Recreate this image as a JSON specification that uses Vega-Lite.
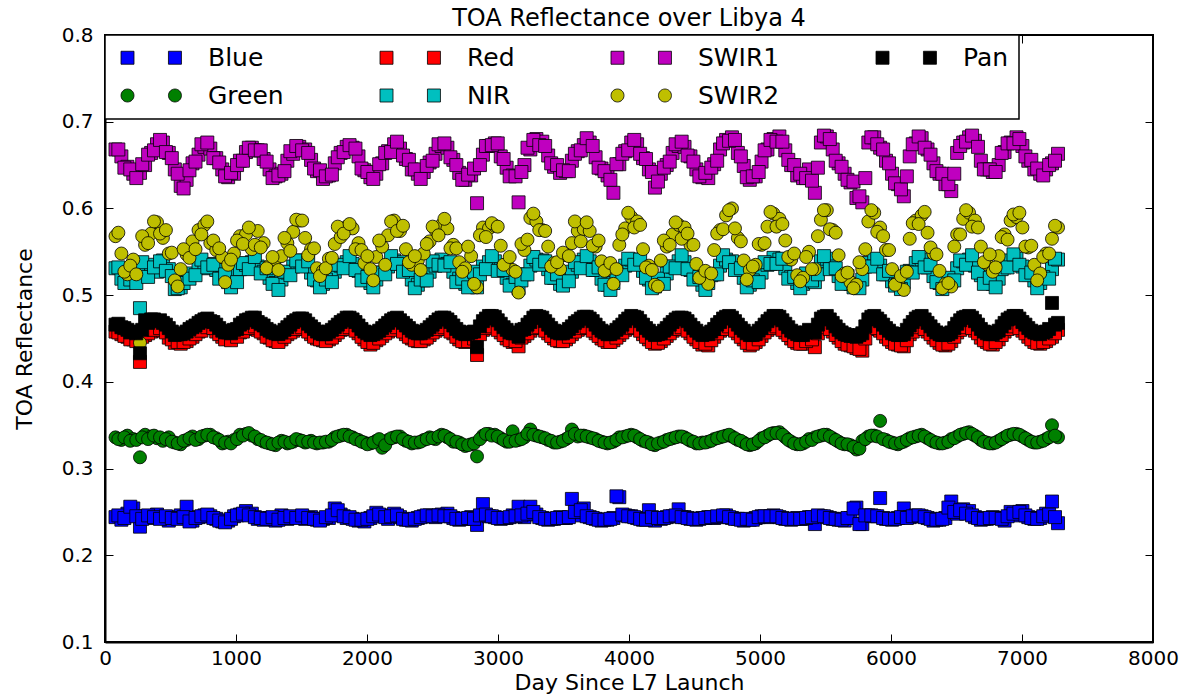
{
"$schema": "https://vega.github.io/schema/vega-lite/v6.json",
"width": 1048, "height": 607,
"autosize": "none",
"padding": {"left": 105, "top": 35, "right": 35, "bottom": 55},
"background": "white",
"title": {"text": "TOA Reflectance over Libya 4", "fontSize": 24, "font": "DejaVu Sans", "fontWeight": "normal", "color": "black", "anchor": "middle", "frame": "group", "offset": -6},
"config": {
  "view": {"stroke": "black", "strokeWidth": 2},
  "font": "DejaVu Sans",
  "legend": {
    "orient": "top-left", "offset": 0, "columns": 4, "padding": 10,
    "strokeColor": "black", "strokeWidth": 1.5, "fillColor": "white",
    "labelFont": "DejaVu Sans", "labelFontSize": 25, "labelColor": "black",
    "symbolSize": 169, "labelOffset": 68, "columnPadding": 90, "rowPadding": 12,
    "symbolStrokeColor": "black", "symbolStrokeWidth": 0.8, "symbolOpacity": 1
  }
},
"data": {"values": [
{"day":80,"Blue":0.244,"Green":0.336,"Red":0.458,"NIR":0.531,"SWIR1":0.668,"SWIR2":0.568,"Pan":0.466},
{"day":125,"Blue":0.241,"Green":0.333,"Red":0.455,"NIR":0.519,"SWIR1":0.660,"SWIR2":0.548,"Pan":0.463},
{"day":171,"Blue":0.248,"Green":0.338,"Red":0.452,"NIR":0.517,"SWIR1":0.648,"SWIR2":0.524,"Pan":0.460},
{"day":216,"Blue":0.254,"Green":0.334,"Red":0.449,"NIR":0.522,"SWIR1":0.640,"SWIR2":0.541,"Pan":0.458},
{"day":267,"Blue":0.233,"Green":0.313,"Red":0.423,"NIR":0.485,"SWIR1":0.641,"SWIR2":0.445,"Pan":0.433},
{"day":306,"Blue":0.245,"Green":0.339,"Red":0.454,"NIR":0.527,"SWIR1":0.650,"SWIR2":0.558,"Pan":0.471},
{"day":352,"Blue":0.243,"Green":0.337,"Red":0.458,"NIR":0.535,"SWIR1":0.664,"SWIR2":0.571,"Pan":0.472},
{"day":397,"Blue":0.247,"Green":0.335,"Red":0.461,"NIR":0.527,"SWIR1":0.674,"SWIR2":0.584,"Pan":0.470},
{"day":442,"Blue":0.243,"Green":0.332,"Red":0.459,"NIR":0.540,"SWIR1":0.676,"SWIR2":0.566,"Pan":0.468},
{"day":487,"Blue":0.240,"Green":0.336,"Red":0.451,"NIR":0.530,"SWIR1":0.664,"SWIR2":0.548,"Pan":0.462},
{"day":533,"Blue":0.244,"Green":0.330,"Red":0.445,"NIR":0.507,"SWIR1":0.645,"SWIR2":0.517,"Pan":0.454},
{"day":578,"Blue":0.246,"Green":0.328,"Red":0.444,"NIR":0.509,"SWIR1":0.626,"SWIR2":0.530,"Pan":0.455},
{"day":623,"Blue":0.256,"Green":0.333,"Red":0.447,"NIR":0.520,"SWIR1":0.633,"SWIR2":0.547,"Pan":0.458},
{"day":668,"Blue":0.240,"Green":0.337,"Red":0.452,"NIR":0.525,"SWIR1":0.652,"SWIR2":0.562,"Pan":0.463},
{"day":714,"Blue":0.244,"Green":0.334,"Red":0.458,"NIR":0.536,"SWIR1":0.662,"SWIR2":0.575,"Pan":0.468},
{"day":759,"Blue":0.246,"Green":0.338,"Red":0.462,"NIR":0.531,"SWIR1":0.671,"SWIR2":0.581,"Pan":0.472},
{"day":804,"Blue":0.245,"Green":0.339,"Red":0.464,"NIR":0.536,"SWIR1":0.669,"SWIR2":0.560,"Pan":0.470},
{"day":849,"Blue":0.242,"Green":0.335,"Red":0.458,"NIR":0.529,"SWIR1":0.658,"SWIR2":0.552,"Pan":0.466},
{"day":895,"Blue":0.239,"Green":0.329,"Red":0.452,"NIR":0.520,"SWIR1":0.645,"SWIR2":0.544,"Pan":0.459},
{"day":940,"Blue":0.240,"Green":0.331,"Red":0.450,"NIR":0.515,"SWIR1":0.636,"SWIR2":0.535,"Pan":0.457},
{"day":985,"Blue":0.245,"Green":0.333,"Red":0.453,"NIR":0.524,"SWIR1":0.640,"SWIR2":0.548,"Pan":0.460},
{"day":1030,"Blue":0.247,"Green":0.339,"Red":0.457,"NIR":0.530,"SWIR1":0.655,"SWIR2":0.568,"Pan":0.466},
{"day":1076,"Blue":0.251,"Green":0.340,"Red":0.461,"NIR":0.535,"SWIR1":0.665,"SWIR2":0.570,"Pan":0.471},
{"day":1121,"Blue":0.248,"Green":0.338,"Red":0.463,"NIR":0.538,"SWIR1":0.670,"SWIR2":0.553,"Pan":0.474},
{"day":1166,"Blue":0.242,"Green":0.334,"Red":0.460,"NIR":0.533,"SWIR1":0.667,"SWIR2":0.574,"Pan":0.469},
{"day":1211,"Blue":0.241,"Green":0.331,"Red":0.456,"NIR":0.527,"SWIR1":0.657,"SWIR2":0.560,"Pan":0.465},
{"day":1256,"Blue":0.243,"Green":0.329,"Red":0.451,"NIR":0.520,"SWIR1":0.645,"SWIR2":0.534,"Pan":0.459},
{"day":1302,"Blue":0.240,"Green":0.327,"Red":0.447,"NIR":0.514,"SWIR1":0.637,"SWIR2":0.541,"Pan":0.456},
{"day":1347,"Blue":0.246,"Green":0.332,"Red":0.449,"NIR":0.518,"SWIR1":0.640,"SWIR2":0.545,"Pan":0.457},
{"day":1392,"Blue":0.242,"Green":0.329,"Red":0.455,"NIR":0.526,"SWIR1":0.655,"SWIR2":0.560,"Pan":0.463},
{"day":1437,"Blue":0.244,"Green":0.331,"Red":0.459,"NIR":0.533,"SWIR1":0.663,"SWIR2":0.573,"Pan":0.469},
{"day":1483,"Blue":0.244,"Green":0.333,"Red":0.462,"NIR":0.540,"SWIR1":0.671,"SWIR2":0.586,"Pan":0.473},
{"day":1528,"Blue":0.242,"Green":0.330,"Red":0.461,"NIR":0.535,"SWIR1":0.668,"SWIR2":0.566,"Pan":0.471},
{"day":1573,"Blue":0.244,"Green":0.332,"Red":0.455,"NIR":0.526,"SWIR1":0.656,"SWIR2":0.553,"Pan":0.464},
{"day":1618,"Blue":0.241,"Green":0.329,"Red":0.450,"NIR":0.517,"SWIR1":0.643,"SWIR2":0.531,"Pan":0.458},
{"day":1664,"Blue":0.242,"Green":0.330,"Red":0.448,"NIR":0.513,"SWIR1":0.634,"SWIR2":0.528,"Pan":0.455},
{"day":1709,"Blue":0.243,"Green":0.331,"Red":0.449,"NIR":0.519,"SWIR1":0.638,"SWIR2":0.542,"Pan":0.458},
{"day":1754,"Blue":0.254,"Green":0.336,"Red":0.454,"NIR":0.527,"SWIR1":0.652,"SWIR2":0.559,"Pan":0.463},
{"day":1799,"Blue":0.247,"Green":0.338,"Red":0.460,"NIR":0.534,"SWIR1":0.664,"SWIR2":0.567,"Pan":0.469},
{"day":1845,"Blue":0.243,"Green":0.339,"Red":0.463,"NIR":0.538,"SWIR1":0.671,"SWIR2":0.579,"Pan":0.474},
{"day":1890,"Blue":0.242,"Green":0.336,"Red":0.462,"NIR":0.536,"SWIR1":0.670,"SWIR2":0.577,"Pan":0.472},
{"day":1935,"Blue":0.240,"Green":0.333,"Red":0.456,"NIR":0.528,"SWIR1":0.660,"SWIR2":0.560,"Pan":0.465},
{"day":1980,"Blue":0.239,"Green":0.330,"Red":0.449,"NIR":0.519,"SWIR1":0.644,"SWIR2":0.537,"Pan":0.458},
{"day":2026,"Blue":0.243,"Green":0.329,"Red":0.443,"NIR":0.514,"SWIR1":0.636,"SWIR2":0.530,"Pan":0.454},
{"day":2071,"Blue":0.249,"Green":0.332,"Red":0.448,"NIR":0.518,"SWIR1":0.640,"SWIR2":0.544,"Pan":0.457},
{"day":2116,"Blue":0.246,"Green":0.324,"Red":0.453,"NIR":0.526,"SWIR1":0.652,"SWIR2":0.556,"Pan":0.462},
{"day":2161,"Blue":0.242,"Green":0.333,"Red":0.458,"NIR":0.533,"SWIR1":0.666,"SWIR2":0.569,"Pan":0.468},
{"day":2207,"Blue":0.248,"Green":0.336,"Red":0.462,"NIR":0.540,"SWIR1":0.674,"SWIR2":0.586,"Pan":0.473},
{"day":2252,"Blue":0.244,"Green":0.337,"Red":0.461,"NIR":0.538,"SWIR1":0.669,"SWIR2":0.574,"Pan":0.471},
{"day":2297,"Blue":0.241,"Green":0.332,"Red":0.455,"NIR":0.528,"SWIR1":0.657,"SWIR2":0.553,"Pan":0.465},
{"day":2342,"Blue":0.240,"Green":0.329,"Red":0.450,"NIR":0.518,"SWIR1":0.645,"SWIR2":0.535,"Pan":0.459},
{"day":2388,"Blue":0.243,"Green":0.330,"Red":0.447,"NIR":0.512,"SWIR1":0.640,"SWIR2":0.540,"Pan":0.456},
{"day":2433,"Blue":0.245,"Green":0.333,"Red":0.449,"NIR":0.517,"SWIR1":0.642,"SWIR2":0.548,"Pan":0.458},
{"day":2478,"Blue":0.246,"Green":0.336,"Red":0.454,"NIR":0.527,"SWIR1":0.653,"SWIR2":0.562,"Pan":0.463},
{"day":2523,"Blue":0.244,"Green":0.334,"Red":0.459,"NIR":0.534,"SWIR1":0.663,"SWIR2":0.575,"Pan":0.469},
{"day":2569,"Blue":0.247,"Green":0.339,"Red":0.463,"NIR":0.541,"SWIR1":0.672,"SWIR2":0.581,"Pan":0.474},
{"day":2614,"Blue":0.248,"Green":0.336,"Red":0.461,"NIR":0.536,"SWIR1":0.670,"SWIR2":0.577,"Pan":0.472},
{"day":2659,"Blue":0.243,"Green":0.331,"Red":0.456,"NIR":0.527,"SWIR1":0.656,"SWIR2":0.558,"Pan":0.465},
{"day":2704,"Blue":0.241,"Green":0.330,"Red":0.449,"NIR":0.519,"SWIR1":0.641,"SWIR2":0.538,"Pan":0.458},
{"day":2750,"Blue":0.242,"Green":0.326,"Red":0.446,"NIR":0.513,"SWIR1":0.633,"SWIR2":0.531,"Pan":0.455},
{"day":2795,"Blue":0.244,"Green":0.328,"Red":0.448,"NIR":0.515,"SWIR1":0.638,"SWIR2":0.545,"Pan":0.457},
{"day":2840,"Blue":0.235,"Green":0.314,"Red":0.431,"NIR":0.509,"SWIR1":0.606,"SWIR2":0.509,"Pan":0.440},
{"day":2885,"Blue":0.259,"Green":0.338,"Red":0.460,"NIR":0.533,"SWIR1":0.662,"SWIR2":0.578,"Pan":0.470},
{"day":2931,"Blue":0.245,"Green":0.340,"Red":0.464,"NIR":0.538,"SWIR1":0.672,"SWIR2":0.577,"Pan":0.476},
{"day":2976,"Blue":0.244,"Green":0.339,"Red":0.463,"NIR":0.539,"SWIR1":0.675,"SWIR2":0.580,"Pan":0.475},
{"day":3021,"Blue":0.242,"Green":0.335,"Red":0.457,"NIR":0.530,"SWIR1":0.660,"SWIR2":0.557,"Pan":0.467},
{"day":3066,"Blue":0.243,"Green":0.331,"Red":0.450,"NIR":0.520,"SWIR1":0.647,"SWIR2":0.536,"Pan":0.460},
{"day":3112,"Blue":0.246,"Green":0.343,"Red":0.446,"NIR":0.512,"SWIR1":0.638,"SWIR2":0.529,"Pan":0.456},
{"day":3157,"Blue":0.256,"Green":0.333,"Red":0.441,"NIR":0.508,"SWIR1":0.607,"SWIR2":0.503,"Pan":0.452},
{"day":3202,"Blue":0.244,"Green":0.336,"Red":0.453,"NIR":0.524,"SWIR1":0.650,"SWIR2":0.552,"Pan":0.461},
{"day":3247,"Blue":0.256,"Green":0.345,"Red":0.459,"NIR":0.534,"SWIR1":0.668,"SWIR2":0.589,"Pan":0.469},
{"day":3293,"Blue":0.247,"Green":0.338,"Red":0.464,"NIR":0.541,"SWIR1":0.680,"SWIR2":0.585,"Pan":0.476},
{"day":3338,"Blue":0.243,"Green":0.336,"Red":0.462,"NIR":0.540,"SWIR1":0.677,"SWIR2":0.575,"Pan":0.474},
{"day":3383,"Blue":0.241,"Green":0.333,"Red":0.456,"NIR":0.530,"SWIR1":0.661,"SWIR2":0.556,"Pan":0.466},
{"day":3428,"Blue":0.242,"Green":0.330,"Red":0.450,"NIR":0.520,"SWIR1":0.648,"SWIR2":0.537,"Pan":0.459},
{"day":3474,"Blue":0.244,"Green":0.331,"Red":0.447,"NIR":0.513,"SWIR1":0.641,"SWIR2":0.530,"Pan":0.456},
{"day":3519,"Blue":0.243,"Green":0.334,"Red":0.449,"NIR":0.517,"SWIR1":0.643,"SWIR2":0.546,"Pan":0.458},
{"day":3564,"Blue":0.265,"Green":0.345,"Red":0.455,"NIR":0.527,"SWIR1":0.655,"SWIR2":0.560,"Pan":0.464},
{"day":3609,"Blue":0.246,"Green":0.337,"Red":0.460,"NIR":0.535,"SWIR1":0.666,"SWIR2":0.574,"Pan":0.470},
{"day":3655,"Blue":0.254,"Green":0.338,"Red":0.463,"NIR":0.541,"SWIR1":0.673,"SWIR2":0.576,"Pan":0.475},
{"day":3700,"Blue":0.244,"Green":0.336,"Red":0.462,"NIR":0.539,"SWIR1":0.676,"SWIR2":0.574,"Pan":0.473},
{"day":3745,"Blue":0.242,"Green":0.334,"Red":0.456,"NIR":0.529,"SWIR1":0.659,"SWIR2":0.556,"Pan":0.466},
{"day":3790,"Blue":0.240,"Green":0.331,"Red":0.450,"NIR":0.519,"SWIR1":0.646,"SWIR2":0.539,"Pan":0.459},
{"day":3836,"Blue":0.241,"Green":0.329,"Red":0.446,"NIR":0.512,"SWIR1":0.638,"SWIR2":0.530,"Pan":0.455},
{"day":3881,"Blue":0.243,"Green":0.331,"Red":0.448,"NIR":0.514,"SWIR1":0.618,"SWIR2":0.513,"Pan":0.457},
{"day":3926,"Blue":0.267,"Green":0.336,"Red":0.454,"NIR":0.526,"SWIR1":0.651,"SWIR2":0.558,"Pan":0.463},
{"day":3971,"Blue":0.246,"Green":0.337,"Red":0.460,"NIR":0.534,"SWIR1":0.666,"SWIR2":0.577,"Pan":0.470},
{"day":4017,"Blue":0.245,"Green":0.339,"Red":0.464,"NIR":0.541,"SWIR1":0.676,"SWIR2":0.590,"Pan":0.476},
{"day":4062,"Blue":0.243,"Green":0.336,"Red":0.462,"NIR":0.538,"SWIR1":0.674,"SWIR2":0.585,"Pan":0.474},
{"day":4107,"Blue":0.241,"Green":0.332,"Red":0.455,"NIR":0.528,"SWIR1":0.658,"SWIR2":0.553,"Pan":0.466},
{"day":4152,"Blue":0.252,"Green":0.330,"Red":0.449,"NIR":0.518,"SWIR1":0.645,"SWIR2":0.534,"Pan":0.459},
{"day":4198,"Blue":0.240,"Green":0.327,"Red":0.444,"NIR":0.510,"SWIR1":0.624,"SWIR2":0.512,"Pan":0.454},
{"day":4243,"Blue":0.242,"Green":0.330,"Red":0.447,"NIR":0.515,"SWIR1":0.640,"SWIR2":0.540,"Pan":0.456},
{"day":4288,"Blue":0.244,"Green":0.333,"Red":0.453,"NIR":0.525,"SWIR1":0.650,"SWIR2":0.556,"Pan":0.462},
{"day":4333,"Blue":0.245,"Green":0.335,"Red":0.459,"NIR":0.533,"SWIR1":0.664,"SWIR2":0.570,"Pan":0.469},
{"day":4379,"Blue":0.253,"Green":0.337,"Red":0.463,"NIR":0.539,"SWIR1":0.672,"SWIR2":0.581,"Pan":0.474},
{"day":4424,"Blue":0.244,"Green":0.336,"Red":0.462,"NIR":0.538,"SWIR1":0.671,"SWIR2":0.578,"Pan":0.473},
{"day":4469,"Blue":0.242,"Green":0.332,"Red":0.456,"NIR":0.529,"SWIR1":0.660,"SWIR2":0.558,"Pan":0.466},
{"day":4514,"Blue":0.241,"Green":0.329,"Red":0.449,"NIR":0.519,"SWIR1":0.645,"SWIR2":0.536,"Pan":0.459},
{"day":4560,"Blue":0.243,"Green":0.330,"Red":0.443,"NIR":0.512,"SWIR1":0.636,"SWIR2":0.520,"Pan":0.454},
{"day":4605,"Blue":0.244,"Green":0.331,"Red":0.442,"NIR":0.514,"SWIR1":0.635,"SWIR2":0.513,"Pan":0.455},
{"day":4650,"Blue":0.243,"Green":0.334,"Red":0.452,"NIR":0.524,"SWIR1":0.651,"SWIR2":0.552,"Pan":0.461},
{"day":4695,"Blue":0.244,"Green":0.336,"Red":0.459,"NIR":0.534,"SWIR1":0.668,"SWIR2":0.575,"Pan":0.469},
{"day":4741,"Blue":0.246,"Green":0.338,"Red":0.464,"NIR":0.541,"SWIR1":0.679,"SWIR2":0.592,"Pan":0.475},
{"day":4786,"Blue":0.243,"Green":0.337,"Red":0.462,"NIR":0.539,"SWIR1":0.682,"SWIR2":0.600,"Pan":0.474},
{"day":4831,"Blue":0.242,"Green":0.333,"Red":0.456,"NIR":0.530,"SWIR1":0.664,"SWIR2":0.566,"Pan":0.466},
{"day":4876,"Blue":0.240,"Green":0.330,"Red":0.449,"NIR":0.520,"SWIR1":0.649,"SWIR2":0.540,"Pan":0.459},
{"day":4922,"Blue":0.241,"Green":0.327,"Red":0.442,"NIR":0.512,"SWIR1":0.633,"SWIR2":0.529,"Pan":0.454},
{"day":4967,"Blue":0.243,"Green":0.329,"Red":0.446,"NIR":0.515,"SWIR1":0.637,"SWIR2":0.535,"Pan":0.455},
{"day":5012,"Blue":0.245,"Green":0.335,"Red":0.453,"NIR":0.526,"SWIR1":0.654,"SWIR2":0.558,"Pan":0.462},
{"day":5057,"Blue":0.244,"Green":0.338,"Red":0.460,"NIR":0.535,"SWIR1":0.668,"SWIR2":0.579,"Pan":0.470},
{"day":5103,"Blue":0.246,"Green":0.341,"Red":0.465,"NIR":0.543,"SWIR1":0.680,"SWIR2":0.594,"Pan":0.476},
{"day":5148,"Blue":0.244,"Green":0.342,"Red":0.463,"NIR":0.541,"SWIR1":0.683,"SWIR2":0.588,"Pan":0.475},
{"day":5193,"Blue":0.242,"Green":0.336,"Red":0.457,"NIR":0.531,"SWIR1":0.667,"SWIR2":0.563,"Pan":0.467},
{"day":5238,"Blue":0.241,"Green":0.331,"Red":0.450,"NIR":0.521,"SWIR1":0.650,"SWIR2":0.541,"Pan":0.459},
{"day":5284,"Blue":0.243,"Green":0.328,"Red":0.445,"NIR":0.514,"SWIR1":0.638,"SWIR2":0.523,"Pan":0.455},
{"day":5329,"Blue":0.242,"Green":0.329,"Red":0.444,"NIR":0.513,"SWIR1":0.635,"SWIR2":0.520,"Pan":0.454},
{"day":5374,"Blue":0.244,"Green":0.334,"Red":0.451,"NIR":0.522,"SWIR1":0.645,"SWIR2":0.550,"Pan":0.460},
{"day":5419,"Blue":0.236,"Green":0.336,"Red":0.440,"NIR":0.515,"SWIR1":0.618,"SWIR2":0.530,"Pan":0.457},
{"day":5465,"Blue":0.245,"Green":0.338,"Red":0.462,"NIR":0.539,"SWIR1":0.676,"SWIR2":0.587,"Pan":0.473},
{"day":5510,"Blue":0.244,"Green":0.339,"Red":0.464,"NIR":0.542,"SWIR1":0.683,"SWIR2":0.598,"Pan":0.476},
{"day":5555,"Blue":0.242,"Green":0.335,"Red":0.458,"NIR":0.533,"SWIR1":0.668,"SWIR2":0.575,"Pan":0.468},
{"day":5600,"Blue":0.241,"Green":0.331,"Red":0.451,"NIR":0.522,"SWIR1":0.652,"SWIR2":0.546,"Pan":0.460},
{"day":5646,"Blue":0.240,"Green":0.328,"Red":0.444,"NIR":0.515,"SWIR1":0.640,"SWIR2":0.525,"Pan":0.455},
{"day":5691,"Blue":0.243,"Green":0.327,"Red":0.442,"NIR":0.513,"SWIR1":0.630,"SWIR2":0.515,"Pan":0.453},
{"day":5736,"Blue":0.255,"Green":0.322,"Red":0.439,"NIR":0.512,"SWIR1":0.612,"SWIR2":0.512,"Pan":0.452},
{"day":5781,"Blue":0.236,"Green":0.332,"Red":0.436,"NIR":0.518,"SWIR1":0.607,"SWIR2":0.530,"Pan":0.456},
{"day":5827,"Blue":0.246,"Green":0.337,"Red":0.461,"NIR":0.537,"SWIR1":0.676,"SWIR2":0.585,"Pan":0.472},
{"day":5872,"Blue":0.245,"Green":0.338,"Red":0.464,"NIR":0.541,"SWIR1":0.682,"SWIR2":0.595,"Pan":0.476},
{"day":5917,"Blue":0.266,"Green":0.355,"Red":0.459,"NIR":0.534,"SWIR1":0.670,"SWIR2":0.578,"Pan":0.470},
{"day":5962,"Blue":0.242,"Green":0.333,"Red":0.452,"NIR":0.524,"SWIR1":0.655,"SWIR2":0.552,"Pan":0.462},
{"day":6008,"Blue":0.241,"Green":0.330,"Red":0.446,"NIR":0.516,"SWIR1":0.640,"SWIR2":0.530,"Pan":0.456},
{"day":6053,"Blue":0.243,"Green":0.328,"Red":0.443,"NIR":0.512,"SWIR1":0.628,"SWIR2":0.515,"Pan":0.454},
{"day":6098,"Blue":0.254,"Green":0.331,"Red":0.441,"NIR":0.515,"SWIR1":0.614,"SWIR2":0.506,"Pan":0.455},
{"day":6143,"Blue":0.244,"Green":0.335,"Red":0.455,"NIR":0.528,"SWIR1":0.660,"SWIR2":0.565,"Pan":0.465},
{"day":6189,"Blue":0.246,"Green":0.337,"Red":0.461,"NIR":0.537,"SWIR1":0.675,"SWIR2":0.586,"Pan":0.473},
{"day":6234,"Blue":0.245,"Green":0.339,"Red":0.464,"NIR":0.541,"SWIR1":0.681,"SWIR2":0.592,"Pan":0.476},
{"day":6279,"Blue":0.243,"Green":0.335,"Red":0.458,"NIR":0.532,"SWIR1":0.668,"SWIR2":0.572,"Pan":0.468},
{"day":6324,"Blue":0.240,"Green":0.331,"Red":0.451,"NIR":0.522,"SWIR1":0.652,"SWIR2":0.548,"Pan":0.460},
{"day":6370,"Blue":0.241,"Green":0.329,"Red":0.445,"NIR":0.514,"SWIR1":0.640,"SWIR2":0.528,"Pan":0.455},
{"day":6415,"Blue":0.243,"Green":0.330,"Red":0.442,"NIR":0.512,"SWIR1":0.628,"SWIR2":0.513,"Pan":0.454},
{"day":6460,"Blue":0.262,"Green":0.334,"Red":0.447,"NIR":0.516,"SWIR1":0.620,"SWIR2":0.510,"Pan":0.457},
{"day":6505,"Blue":0.248,"Green":0.337,"Red":0.457,"NIR":0.531,"SWIR1":0.664,"SWIR2":0.570,"Pan":0.467},
{"day":6551,"Blue":0.253,"Green":0.340,"Red":0.462,"NIR":0.539,"SWIR1":0.676,"SWIR2":0.588,"Pan":0.474},
{"day":6596,"Blue":0.251,"Green":0.342,"Red":0.464,"NIR":0.541,"SWIR1":0.682,"SWIR2":0.595,"Pan":0.476},
{"day":6641,"Blue":0.244,"Green":0.338,"Red":0.459,"NIR":0.534,"SWIR1":0.678,"SWIR2":0.586,"Pan":0.470},
{"day":6686,"Blue":0.241,"Green":0.333,"Red":0.451,"NIR":0.523,"SWIR1":0.655,"SWIR2":0.556,"Pan":0.461},
{"day":6732,"Blue":0.242,"Green":0.330,"Red":0.446,"NIR":0.515,"SWIR1":0.645,"SWIR2":0.536,"Pan":0.456},
{"day":6777,"Blue":0.244,"Green":0.329,"Red":0.443,"NIR":0.513,"SWIR1":0.642,"SWIR2":0.527,"Pan":0.455},
{"day":6822,"Blue":0.243,"Green":0.332,"Red":0.449,"NIR":0.519,"SWIR1":0.650,"SWIR2":0.545,"Pan":0.459},
{"day":6867,"Blue":0.240,"Green":0.336,"Red":0.458,"NIR":0.532,"SWIR1":0.665,"SWIR2":0.570,"Pan":0.468},
{"day":6913,"Blue":0.250,"Green":0.339,"Red":0.463,"NIR":0.540,"SWIR1":0.676,"SWIR2":0.586,"Pan":0.474},
{"day":6958,"Blue":0.246,"Green":0.340,"Red":0.464,"NIR":0.542,"SWIR1":0.682,"SWIR2":0.590,"Pan":0.476},
{"day":7003,"Blue":0.251,"Green":0.337,"Red":0.459,"NIR":0.533,"SWIR1":0.672,"SWIR2":0.578,"Pan":0.469},
{"day":7048,"Blue":0.244,"Green":0.333,"Red":0.452,"NIR":0.524,"SWIR1":0.655,"SWIR2":0.555,"Pan":0.462},
{"day":7094,"Blue":0.242,"Green":0.330,"Red":0.446,"NIR":0.517,"SWIR1":0.645,"SWIR2":0.535,"Pan":0.457},
{"day":7139,"Blue":0.243,"Green":0.331,"Red":0.444,"NIR":0.514,"SWIR1":0.640,"SWIR2":0.525,"Pan":0.455},
{"day":7184,"Blue":0.248,"Green":0.334,"Red":0.447,"NIR":0.520,"SWIR1":0.645,"SWIR2":0.548,"Pan":0.458},
{"day":7229,"Blue":0.262,"Green":0.350,"Red":0.452,"NIR":0.530,"SWIR1":0.652,"SWIR2":0.565,"Pan":0.491},
{"day":7275,"Blue":0.237,"Green":0.336,"Red":0.460,"NIR":0.541,"SWIR1":0.663,"SWIR2":0.578,"Pan":0.468},
{"day":102,"Blue":0.246,"Green":0.334,"Red":0.457,"NIR":0.532,"SWIR1":0.668,"SWIR2":0.572,"Pan":0.467},
{"day":148,"Blue":0.243,"Green":0.336,"Red":0.453,"NIR":0.514,"SWIR1":0.647,"SWIR2":0.527,"Pan":0.462},
{"day":193,"Blue":0.256,"Green":0.332,"Red":0.449,"NIR":0.518,"SWIR1":0.645,"SWIR2":0.534,"Pan":0.457},
{"day":239,"Blue":0.245,"Green":0.333,"Red":0.447,"NIR":0.514,"SWIR1":0.635,"SWIR2":0.524,"Pan":0.456},
{"day":284,"Blue":0.242,"Green":0.336,"Red":0.452,"NIR":0.538,"SWIR1":0.651,"SWIR2":0.568,"Pan":0.460},
{"day":329,"Blue":0.246,"Green":0.334,"Red":0.456,"NIR":0.521,"SWIR1":0.662,"SWIR2":0.560,"Pan":0.468},
{"day":374,"Blue":0.244,"Green":0.338,"Red":0.460,"NIR":0.532,"SWIR1":0.667,"SWIR2":0.585,"Pan":0.472},
{"day":420,"Blue":0.242,"Green":0.336,"Red":0.462,"NIR":0.539,"SWIR1":0.679,"SWIR2":0.571,"Pan":0.471},
{"day":465,"Blue":0.245,"Green":0.334,"Red":0.457,"NIR":0.528,"SWIR1":0.665,"SWIR2":0.575,"Pan":0.466},
{"day":510,"Blue":0.243,"Green":0.331,"Red":0.449,"NIR":0.522,"SWIR1":0.658,"SWIR2":0.549,"Pan":0.458},
{"day":555,"Blue":0.242,"Green":0.329,"Red":0.446,"NIR":0.508,"SWIR1":0.640,"SWIR2":0.510,"Pan":0.455},
{"day":600,"Blue":0.244,"Green":0.332,"Red":0.446,"NIR":0.514,"SWIR1":0.623,"SWIR2":0.553,"Pan":0.456},
{"day":645,"Blue":0.239,"Green":0.335,"Red":0.450,"NIR":0.519,"SWIR1":0.644,"SWIR2":0.543,"Pan":0.461},
{"day":691,"Blue":0.243,"Green":0.333,"Red":0.455,"NIR":0.523,"SWIR1":0.654,"SWIR2":0.553,"Pan":0.465},
{"day":736,"Blue":0.245,"Green":0.337,"Red":0.459,"NIR":0.541,"SWIR1":0.674,"SWIR2":0.570,"Pan":0.470},
{"day":781,"Blue":0.247,"Green":0.339,"Red":0.463,"NIR":0.532,"SWIR1":0.676,"SWIR2":0.585,"Pan":0.473},
{"day":827,"Blue":0.243,"Green":0.336,"Red":0.462,"NIR":0.535,"SWIR1":0.658,"SWIR2":0.563,"Pan":0.469},
{"day":872,"Blue":0.240,"Green":0.333,"Red":0.455,"NIR":0.519,"SWIR1":0.653,"SWIR2":0.554,"Pan":0.462},
{"day":917,"Blue":0.238,"Green":0.330,"Red":0.449,"NIR":0.524,"SWIR1":0.637,"SWIR2":0.515,"Pan":0.457},
{"day":962,"Blue":0.242,"Green":0.329,"Red":0.448,"NIR":0.509,"SWIR1":0.641,"SWIR2":0.541,"Pan":0.456},
{"day":1008,"Blue":0.246,"Green":0.334,"Red":0.452,"NIR":0.515,"SWIR1":0.650,"SWIR2":0.563,"Pan":0.461},
{"day":1053,"Blue":0.248,"Green":0.338,"Red":0.458,"NIR":0.537,"SWIR1":0.655,"SWIR2":0.559,"Pan":0.468},
{"day":1098,"Blue":0.246,"Green":0.341,"Red":0.462,"NIR":0.530,"SWIR1":0.670,"SWIR2":0.578,"Pan":0.472},
{"day":1144,"Blue":0.244,"Green":0.337,"Red":0.464,"NIR":0.544,"SWIR1":0.667,"SWIR2":0.558,"Pan":0.474},
{"day":1189,"Blue":0.243,"Green":0.333,"Red":0.458,"NIR":0.525,"SWIR1":0.667,"SWIR2":0.555,"Pan":0.467},
{"day":1234,"Blue":0.242,"Green":0.330,"Red":0.452,"NIR":0.531,"SWIR1":0.654,"SWIR2":0.531,"Pan":0.461},
{"day":1279,"Blue":0.244,"Green":0.328,"Red":0.448,"NIR":0.513,"SWIR1":0.635,"SWIR2":0.544,"Pan":0.457},
{"day":1324,"Blue":0.241,"Green":0.330,"Red":0.446,"NIR":0.506,"SWIR1":0.638,"SWIR2":0.529,"Pan":0.455},
{"day":1370,"Blue":0.243,"Green":0.331,"Red":0.452,"NIR":0.527,"SWIR1":0.643,"SWIR2":0.566,"Pan":0.460},
{"day":1415,"Blue":0.245,"Green":0.330,"Red":0.457,"NIR":0.523,"SWIR1":0.666,"SWIR2":0.551,"Pan":0.466},
{"day":1460,"Blue":0.243,"Green":0.334,"Red":0.461,"NIR":0.540,"SWIR1":0.672,"SWIR2":0.587,"Pan":0.471},
{"day":1505,"Blue":0.246,"Green":0.332,"Red":0.463,"NIR":0.533,"SWIR1":0.667,"SWIR2":0.586,"Pan":0.473},
{"day":1551,"Blue":0.243,"Green":0.331,"Red":0.458,"NIR":0.539,"SWIR1":0.664,"SWIR2":0.546,"Pan":0.467},
{"day":1596,"Blue":0.242,"Green":0.330,"Red":0.452,"NIR":0.518,"SWIR1":0.646,"SWIR2":0.554,"Pan":0.461},
{"day":1641,"Blue":0.240,"Green":0.330,"Red":0.449,"NIR":0.509,"SWIR1":0.644,"SWIR2":0.522,"Pan":0.456},
{"day":1686,"Blue":0.244,"Green":0.331,"Red":0.447,"NIR":0.518,"SWIR1":0.637,"SWIR2":0.531,"Pan":0.455},
{"day":1732,"Blue":0.246,"Green":0.333,"Red":0.451,"NIR":0.515,"SWIR1":0.639,"SWIR2":0.543,"Pan":0.460},
{"day":1777,"Blue":0.252,"Green":0.337,"Red":0.457,"NIR":0.535,"SWIR1":0.659,"SWIR2":0.579,"Pan":0.466},
{"day":1822,"Blue":0.245,"Green":0.339,"Red":0.461,"NIR":0.531,"SWIR1":0.665,"SWIR2":0.571,"Pan":0.471},
{"day":1867,"Blue":0.244,"Green":0.337,"Red":0.463,"NIR":0.545,"SWIR1":0.673,"SWIR2":0.582,"Pan":0.474},
{"day":1912,"Blue":0.241,"Green":0.334,"Red":0.459,"NIR":0.529,"SWIR1":0.669,"SWIR2":0.553,"Pan":0.469},
{"day":1958,"Blue":0.241,"Green":0.331,"Red":0.452,"NIR":0.517,"SWIR1":0.646,"SWIR2":0.552,"Pan":0.461},
{"day":2003,"Blue":0.242,"Green":0.328,"Red":0.446,"NIR":0.521,"SWIR1":0.642,"SWIR2":0.545,"Pan":0.456},
{"day":2048,"Blue":0.245,"Green":0.330,"Red":0.445,"NIR":0.509,"SWIR1":0.634,"SWIR2":0.517,"Pan":0.455},
{"day":2093,"Blue":0.247,"Green":0.334,"Red":0.450,"NIR":0.526,"SWIR1":0.651,"SWIR2":0.563,"Pan":0.459},
{"day":2139,"Blue":0.244,"Green":0.327,"Red":0.456,"NIR":0.524,"SWIR1":0.664,"SWIR2":0.535,"Pan":0.465},
{"day":2184,"Blue":0.245,"Green":0.335,"Red":0.460,"NIR":0.545,"SWIR1":0.665,"SWIR2":0.585,"Pan":0.471},
{"day":2229,"Blue":0.246,"Green":0.337,"Red":0.463,"NIR":0.536,"SWIR1":0.677,"SWIR2":0.574,"Pan":0.474},
{"day":2275,"Blue":0.242,"Green":0.334,"Red":0.458,"NIR":0.527,"SWIR1":0.661,"SWIR2":0.580,"Pan":0.468},
{"day":2320,"Blue":0.241,"Green":0.331,"Red":0.452,"NIR":0.529,"SWIR1":0.656,"SWIR2":0.538,"Pan":0.462},
{"day":2365,"Blue":0.242,"Green":0.330,"Red":0.448,"NIR":0.508,"SWIR1":0.645,"SWIR2":0.545,"Pan":0.457},
{"day":2410,"Blue":0.244,"Green":0.331,"Red":0.447,"NIR":0.518,"SWIR1":0.634,"SWIR2":0.529,"Pan":0.456},
{"day":2456,"Blue":0.246,"Green":0.334,"Red":0.451,"NIR":0.517,"SWIR1":0.649,"SWIR2":0.559,"Pan":0.460},
{"day":2501,"Blue":0.245,"Green":0.335,"Red":0.457,"NIR":0.539,"SWIR1":0.655,"SWIR2":0.579,"Pan":0.466},
{"day":2546,"Blue":0.246,"Green":0.337,"Red":0.461,"NIR":0.535,"SWIR1":0.674,"SWIR2":0.569,"Pan":0.472},
{"day":2591,"Blue":0.245,"Green":0.338,"Red":0.463,"NIR":0.534,"SWIR1":0.675,"SWIR2":0.588,"Pan":0.474},
{"day":2637,"Blue":0.245,"Green":0.334,"Red":0.458,"NIR":0.538,"SWIR1":0.659,"SWIR2":0.554,"Pan":0.469},
{"day":2682,"Blue":0.242,"Green":0.331,"Red":0.452,"NIR":0.515,"SWIR1":0.650,"SWIR2":0.554,"Pan":0.461},
{"day":2727,"Blue":0.242,"Green":0.328,"Red":0.447,"NIR":0.519,"SWIR1":0.633,"SWIR2":0.527,"Pan":0.456},
{"day":2772,"Blue":0.243,"Green":0.327,"Red":0.447,"NIR":0.509,"SWIR1":0.639,"SWIR2":0.556,"Pan":0.456},
{"day":2817,"Blue":0.242,"Green":0.329,"Red":0.450,"NIR":0.527,"SWIR1":0.646,"SWIR2":0.513,"Pan":0.458},
{"day":2862,"Blue":0.246,"Green":0.334,"Red":0.455,"NIR":0.524,"SWIR1":0.650,"SWIR2":0.569,"Pan":0.464},
{"day":2908,"Blue":0.247,"Green":0.340,"Red":0.462,"NIR":0.530,"SWIR1":0.672,"SWIR2":0.567,"Pan":0.473},
{"day":2953,"Blue":0.245,"Green":0.338,"Red":0.464,"NIR":0.545,"SWIR1":0.673,"SWIR2":0.583,"Pan":0.476},
{"day":2998,"Blue":0.243,"Green":0.337,"Red":0.460,"NIR":0.528,"SWIR1":0.675,"SWIR2":0.579,"Pan":0.471},
{"day":3043,"Blue":0.243,"Green":0.333,"Red":0.454,"NIR":0.529,"SWIR1":0.657,"SWIR2":0.535,"Pan":0.463},
{"day":3089,"Blue":0.244,"Green":0.331,"Red":0.448,"NIR":0.511,"SWIR1":0.637,"SWIR2":0.544,"Pan":0.457},
{"day":3134,"Blue":0.245,"Green":0.332,"Red":0.447,"NIR":0.521,"SWIR1":0.637,"SWIR2":0.527,"Pan":0.456},
{"day":3179,"Blue":0.246,"Green":0.334,"Red":0.451,"NIR":0.517,"SWIR1":0.642,"SWIR2":0.559,"Pan":0.460},
{"day":3225,"Blue":0.248,"Green":0.340,"Red":0.456,"NIR":0.524,"SWIR1":0.670,"SWIR2":0.564,"Pan":0.466},
{"day":3270,"Blue":0.250,"Green":0.339,"Red":0.462,"NIR":0.544,"SWIR1":0.679,"SWIR2":0.594,"Pan":0.474},
{"day":3315,"Blue":0.244,"Green":0.337,"Red":0.463,"NIR":0.535,"SWIR1":0.673,"SWIR2":0.575,"Pan":0.475},
{"day":3360,"Blue":0.242,"Green":0.335,"Red":0.459,"NIR":0.539,"SWIR1":0.672,"SWIR2":0.574,"Pan":0.470},
{"day":3406,"Blue":0.242,"Green":0.332,"Red":0.453,"NIR":0.520,"SWIR1":0.652,"SWIR2":0.533,"Pan":0.462},
{"day":3451,"Blue":0.243,"Green":0.330,"Red":0.448,"NIR":0.524,"SWIR1":0.650,"SWIR2":0.538,"Pan":0.457},
{"day":3496,"Blue":0.243,"Green":0.332,"Red":0.447,"NIR":0.511,"SWIR1":0.644,"SWIR2":0.549,"Pan":0.456},
{"day":3541,"Blue":0.244,"Green":0.336,"Red":0.452,"NIR":0.516,"SWIR1":0.643,"SWIR2":0.545,"Pan":0.461},
{"day":3587,"Blue":0.250,"Green":0.340,"Red":0.458,"NIR":0.538,"SWIR1":0.663,"SWIR2":0.585,"Pan":0.468},
{"day":3632,"Blue":0.252,"Green":0.338,"Red":0.462,"NIR":0.531,"SWIR1":0.667,"SWIR2":0.562,"Pan":0.473},
{"day":3677,"Blue":0.245,"Green":0.337,"Red":0.463,"NIR":0.545,"SWIR1":0.681,"SWIR2":0.584,"Pan":0.475},
{"day":3723,"Blue":0.243,"Green":0.335,"Red":0.459,"NIR":0.529,"SWIR1":0.672,"SWIR2":0.557,"Pan":0.470},
{"day":3768,"Blue":0.241,"Green":0.332,"Red":0.453,"NIR":0.532,"SWIR1":0.647,"SWIR2":0.563,"Pan":0.462},
{"day":3813,"Blue":0.241,"Green":0.330,"Red":0.448,"NIR":0.512,"SWIR1":0.643,"SWIR2":0.528,"Pan":0.457},
{"day":3858,"Blue":0.242,"Green":0.330,"Red":0.446,"NIR":0.506,"SWIR1":0.633,"SWIR2":0.537,"Pan":0.455},
{"day":3904,"Blue":0.268,"Green":0.333,"Red":0.451,"NIR":0.527,"SWIR1":0.651,"SWIR2":0.530,"Pan":0.460},
{"day":3949,"Blue":0.247,"Green":0.336,"Red":0.457,"NIR":0.523,"SWIR1":0.663,"SWIR2":0.570,"Pan":0.466},
{"day":3994,"Blue":0.245,"Green":0.338,"Red":0.462,"NIR":0.542,"SWIR1":0.667,"SWIR2":0.595,"Pan":0.473},
{"day":4040,"Blue":0.244,"Green":0.338,"Red":0.463,"NIR":0.535,"SWIR1":0.679,"SWIR2":0.578,"Pan":0.475},
{"day":4085,"Blue":0.242,"Green":0.334,"Red":0.459,"NIR":0.541,"SWIR1":0.663,"SWIR2":0.581,"Pan":0.470},
{"day":4130,"Blue":0.241,"Green":0.331,"Red":0.452,"NIR":0.520,"SWIR1":0.657,"SWIR2":0.532,"Pan":0.462},
{"day":4175,"Blue":0.244,"Green":0.328,"Red":0.446,"NIR":0.508,"SWIR1":0.642,"SWIR2":0.529,"Pan":0.456},
{"day":4221,"Blue":0.243,"Green":0.329,"Red":0.445,"NIR":0.519,"SWIR1":0.631,"SWIR2":0.510,"Pan":0.455},
{"day":4266,"Blue":0.243,"Green":0.331,"Red":0.450,"NIR":0.513,"SWIR1":0.647,"SWIR2":0.563,"Pan":0.459},
{"day":4311,"Blue":0.245,"Green":0.334,"Red":0.456,"NIR":0.533,"SWIR1":0.654,"SWIR2":0.558,"Pan":0.466},
{"day":4356,"Blue":0.246,"Green":0.336,"Red":0.461,"NIR":0.531,"SWIR1":0.674,"SWIR2":0.584,"Pan":0.472},
{"day":4402,"Blue":0.244,"Green":0.337,"Red":0.463,"NIR":0.546,"SWIR1":0.677,"SWIR2":0.565,"Pan":0.474},
{"day":4447,"Blue":0.243,"Green":0.334,"Red":0.459,"NIR":0.530,"SWIR1":0.661,"SWIR2":0.571,"Pan":0.470},
{"day":4492,"Blue":0.242,"Green":0.331,"Red":0.452,"NIR":0.518,"SWIR1":0.654,"SWIR2":0.558,"Pan":0.462},
{"day":4537,"Blue":0.242,"Green":0.329,"Red":0.446,"NIR":0.521,"SWIR1":0.637,"SWIR2":0.520,"Pan":0.456},
{"day":4583,"Blue":0.243,"Green":0.330,"Red":0.444,"NIR":0.506,"SWIR1":0.641,"SWIR2":0.528,"Pan":0.455},
{"day":4628,"Blue":0.244,"Green":0.332,"Red":0.448,"NIR":0.523,"SWIR1":0.647,"SWIR2":0.525,"Pan":0.458},
{"day":4673,"Blue":0.245,"Green":0.335,"Red":0.456,"NIR":0.524,"SWIR1":0.655,"SWIR2":0.571,"Pan":0.466},
{"day":4718,"Blue":0.246,"Green":0.337,"Red":0.461,"NIR":0.546,"SWIR1":0.675,"SWIR2":0.576,"Pan":0.473},
{"day":4764,"Blue":0.244,"Green":0.339,"Red":0.464,"NIR":0.538,"SWIR1":0.678,"SWIR2":0.598,"Pan":0.476},
{"day":4809,"Blue":0.242,"Green":0.335,"Red":0.459,"NIR":0.529,"SWIR1":0.679,"SWIR2":0.577,"Pan":0.470},
{"day":4854,"Blue":0.241,"Green":0.332,"Red":0.452,"NIR":0.531,"SWIR1":0.660,"SWIR2":0.562,"Pan":0.462},
{"day":4899,"Blue":0.242,"Green":0.328,"Red":0.445,"NIR":0.509,"SWIR1":0.636,"SWIR2":0.518,"Pan":0.456},
{"day":4945,"Blue":0.241,"Green":0.328,"Red":0.444,"NIR":0.517,"SWIR1":0.637,"SWIR2":0.533,"Pan":0.454},
{"day":4990,"Blue":0.244,"Green":0.332,"Red":0.449,"NIR":0.515,"SWIR1":0.642,"SWIR2":0.559,"Pan":0.459},
{"day":5035,"Blue":0.245,"Green":0.336,"Red":0.457,"NIR":0.538,"SWIR1":0.667,"SWIR2":0.560,"Pan":0.466},
{"day":5080,"Blue":0.245,"Green":0.340,"Red":0.462,"NIR":0.536,"SWIR1":0.679,"SWIR2":0.596,"Pan":0.473},
{"day":5126,"Blue":0.245,"Green":0.341,"Red":0.464,"NIR":0.536,"SWIR1":0.677,"SWIR2":0.579,"Pan":0.476},
{"day":5171,"Blue":0.243,"Green":0.339,"Red":0.460,"NIR":0.542,"SWIR1":0.677,"SWIR2":0.582,"Pan":0.471},
{"day":5216,"Blue":0.242,"Green":0.333,"Red":0.454,"NIR":0.519,"SWIR1":0.656,"SWIR2":0.544,"Pan":0.463},
{"day":5261,"Blue":0.242,"Green":0.329,"Red":0.447,"NIR":0.521,"SWIR1":0.650,"SWIR2":0.548,"Pan":0.457},
{"day":5307,"Blue":0.242,"Green":0.328,"Red":0.444,"NIR":0.508,"SWIR1":0.640,"SWIR2":0.516,"Pan":0.454},
{"day":5352,"Blue":0.243,"Green":0.331,"Red":0.447,"NIR":0.525,"SWIR1":0.635,"SWIR2":0.544,"Pan":0.457},
{"day":5397,"Blue":0.244,"Green":0.333,"Red":0.449,"NIR":0.517,"SWIR1":0.632,"SWIR2":0.530,"Pan":0.459},
{"day":5442,"Blue":0.246,"Green":0.337,"Red":0.456,"NIR":0.524,"SWIR1":0.647,"SWIR2":0.568,"Pan":0.466},
{"day":5488,"Blue":0.245,"Green":0.339,"Red":0.463,"NIR":0.545,"SWIR1":0.684,"SWIR2":0.598,"Pan":0.475},
{"day":5533,"Blue":0.243,"Green":0.337,"Red":0.461,"NIR":0.530,"SWIR1":0.680,"SWIR2":0.576,"Pan":0.472},
{"day":5578,"Blue":0.242,"Green":0.333,"Red":0.454,"NIR":0.531,"SWIR1":0.655,"SWIR2":0.572,"Pan":0.464},
{"day":5623,"Blue":0.241,"Green":0.329,"Red":0.447,"NIR":0.513,"SWIR1":0.648,"SWIR2":0.522,"Pan":0.457},
{"day":5668,"Blue":0.243,"Green":0.328,"Red":0.443,"NIR":0.522,"SWIR1":0.633,"SWIR2":0.526,"Pan":0.454},
{"day":5714,"Blue":0.254,"Green":0.325,"Red":0.441,"NIR":0.509,"SWIR1":0.631,"SWIR2":0.508,"Pan":0.453},
{"day":5759,"Blue":0.236,"Green":0.323,"Red":0.438,"NIR":0.508,"SWIR1":0.614,"SWIR2":0.538,"Pan":0.454},
{"day":5804,"Blue":0.246,"Green":0.334,"Red":0.450,"NIR":0.533,"SWIR1":0.635,"SWIR2":0.553,"Pan":0.464},
{"day":5850,"Blue":0.246,"Green":0.338,"Red":0.463,"NIR":0.533,"SWIR1":0.682,"SWIR2":0.598,"Pan":0.475},
{"day":5895,"Blue":0.245,"Green":0.337,"Red":0.462,"NIR":0.542,"SWIR1":0.674,"SWIR2":0.573,"Pan":0.473},
{"day":5940,"Blue":0.243,"Green":0.334,"Red":0.456,"NIR":0.524,"SWIR1":0.668,"SWIR2":0.568,"Pan":0.466},
{"day":5985,"Blue":0.242,"Green":0.331,"Red":0.449,"NIR":0.528,"SWIR1":0.652,"SWIR2":0.552,"Pan":0.459},
{"day":6031,"Blue":0.242,"Green":0.329,"Red":0.444,"NIR":0.511,"SWIR1":0.629,"SWIR2":0.512,"Pan":0.455},
{"day":6076,"Blue":0.244,"Green":0.330,"Red":0.442,"NIR":0.507,"SWIR1":0.622,"SWIR2":0.522,"Pan":0.454},
{"day":6121,"Blue":0.243,"Green":0.333,"Red":0.448,"NIR":0.527,"SWIR1":0.637,"SWIR2":0.527,"Pan":0.460},
{"day":6166,"Blue":0.245,"Green":0.336,"Red":0.458,"NIR":0.526,"SWIR1":0.674,"SWIR2":0.583,"Pan":0.469},
{"day":6211,"Blue":0.246,"Green":0.338,"Red":0.463,"NIR":0.544,"SWIR1":0.683,"SWIR2":0.582,"Pan":0.475},
{"day":6257,"Blue":0.244,"Green":0.337,"Red":0.461,"NIR":0.532,"SWIR1":0.670,"SWIR2":0.596,"Pan":0.472},
{"day":6302,"Blue":0.242,"Green":0.333,"Red":0.455,"NIR":0.535,"SWIR1":0.662,"SWIR2":0.555,"Pan":0.464},
{"day":6347,"Blue":0.241,"Green":0.330,"Red":0.448,"NIR":0.515,"SWIR1":0.643,"SWIR2":0.547,"Pan":0.457},
{"day":6392,"Blue":0.242,"Green":0.329,"Red":0.443,"NIR":0.507,"SWIR1":0.640,"SWIR2":0.508,"Pan":0.454},
{"day":6438,"Blue":0.255,"Green":0.331,"Red":0.444,"NIR":0.520,"SWIR1":0.628,"SWIR2":0.514,"Pan":0.455},
{"day":6483,"Blue":0.250,"Green":0.335,"Red":0.452,"NIR":0.517,"SWIR1":0.640,"SWIR2":0.556,"Pan":0.462},
{"day":6528,"Blue":0.252,"Green":0.339,"Red":0.460,"NIR":0.540,"SWIR1":0.672,"SWIR2":0.570,"Pan":0.471},
{"day":6573,"Blue":0.248,"Green":0.341,"Red":0.463,"NIR":0.535,"SWIR1":0.677,"SWIR2":0.598,"Pan":0.475},
{"day":6619,"Blue":0.246,"Green":0.340,"Red":0.462,"NIR":0.546,"SWIR1":0.684,"SWIR2":0.579,"Pan":0.474},
{"day":6664,"Blue":0.243,"Green":0.336,"Red":0.456,"NIR":0.526,"SWIR1":0.671,"SWIR2":0.578,"Pan":0.466},
{"day":6709,"Blue":0.242,"Green":0.331,"Red":0.448,"NIR":0.513,"SWIR1":0.645,"SWIR2":0.538,"Pan":0.458},
{"day":6754,"Blue":0.243,"Green":0.329,"Red":0.444,"NIR":0.520,"SWIR1":0.645,"SWIR2":0.547,"Pan":0.455},
{"day":6799,"Blue":0.243,"Green":0.330,"Red":0.446,"NIR":0.509,"SWIR1":0.642,"SWIR2":0.532,"Pan":0.457},
{"day":6845,"Blue":0.242,"Green":0.334,"Red":0.454,"NIR":0.530,"SWIR1":0.664,"SWIR2":0.567,"Pan":0.464},
{"day":6890,"Blue":0.245,"Green":0.338,"Red":0.461,"NIR":0.532,"SWIR1":0.675,"SWIR2":0.564,"Pan":0.472},
{"day":6935,"Blue":0.248,"Green":0.340,"Red":0.464,"NIR":0.547,"SWIR1":0.675,"SWIR2":0.593,"Pan":0.476},
{"day":6980,"Blue":0.250,"Green":0.339,"Red":0.462,"NIR":0.535,"SWIR1":0.680,"SWIR2":0.595,"Pan":0.473},
{"day":7026,"Blue":0.246,"Green":0.335,"Red":0.456,"NIR":0.523,"SWIR1":0.660,"SWIR2":0.556,"Pan":0.466},
{"day":7071,"Blue":0.243,"Green":0.331,"Red":0.449,"NIR":0.526,"SWIR1":0.656,"SWIR2":0.557,"Pan":0.459},
{"day":7116,"Blue":0.242,"Green":0.330,"Red":0.445,"NIR":0.508,"SWIR1":0.646,"SWIR2":0.517,"Pan":0.456},
{"day":7162,"Blue":0.245,"Green":0.332,"Red":0.446,"NIR":0.521,"SWIR1":0.638,"SWIR2":0.544,"Pan":0.457},
{"day":7207,"Blue":0.247,"Green":0.336,"Red":0.450,"NIR":0.519,"SWIR1":0.650,"SWIR2":0.548,"Pan":0.461},
{"day":7252,"Blue":0.244,"Green":0.338,"Red":0.456,"NIR":0.542,"SWIR1":0.655,"SWIR2":0.580,"Pan":0.466}
]},
"encoding": {
  "x": {"field": "day", "type": "quantitative", "scale": {"domain": [0, 8000], "nice": false}, "axis": null},
  "y": {"field": "value", "type": "quantitative", "scale": {"domain": [0.1, 0.8], "nice": false, "zero": false}, "axis": null},
  "color": {"field": "band", "type": "nominal",
    "scale": {"domain": ["Blue", "Green", "Red", "NIR", "SWIR1", "SWIR2", "Pan"], "range": ["#0000ff", "#008000", "#ff0000", "#00bfbf", "#bf00bf", "#bfbf00", "#000000"]},
    "legend": {"title": null, "encode": {"symbols": {"update": {"shape": {"signal": "(datum.value === 'Green' || datum.value === 'SWIR2') ? 'M1,0A1,1,0,1,1,-1,0A1,1,0,1,1,1,0ZM8.3,0A1,1,0,1,1,6.3,0A1,1,0,1,1,8.3,0Z' : 'M-1,-1L1,-1L1,1L-1,1ZM6.3,-1L8.3,-1L8.3,1L6.3,1Z'"}}}}}}
},
"layer": [
  {"transform": [{"fold": ["Blue"], "as": ["band", "value"]}],
   "mark": {"type": "point", "shape": "square", "filled": true, "opacity": 1, "size": 169, "stroke": "black", "strokeWidth": 0.8},
   "encoding": {
     "x": {"field": "day", "type": "quantitative", "scale": {"domain": [0, 8000], "nice": false},
       "axis": {"orient": "bottom", "values": [0,1000,2000,3000,4000,5000,6000,7000,8000], "format": "d", "grid": false, "domain": true, "domainColor": "black", "domainWidth": 2, "ticks": true, "tickSize": -8, "tickColor": "black", "tickWidth": 1, "labelPadding": 14, "labelFont": "DejaVu Sans", "labelFontSize": 20, "labelColor": "black", "labelFlush": false, "labelOverlap": false, "title": "Day Since L7 Launch", "titleFont": "DejaVu Sans", "titleFontSize": 22, "titleFontWeight": "normal", "titleColor": "black", "titlePadding": 4}},
     "y": {"field": "value", "type": "quantitative", "scale": {"domain": [0.1, 0.8], "nice": false, "zero": false},
       "axis": {"orient": "left", "values": [0.1,0.2,0.3,0.4,0.5,0.6,0.7,0.8], "format": ".1f", "grid": false, "domain": true, "domainColor": "black", "domainWidth": 2, "ticks": true, "tickSize": -8, "tickColor": "black", "tickWidth": 1, "labelPadding": 20, "labelFont": "DejaVu Sans", "labelFontSize": 20, "labelColor": "black", "labelFlush": false, "labelOverlap": false, "title": "TOA Reflectance", "titleFont": "DejaVu Sans", "titleFontSize": 22, "titleFontWeight": "normal", "titleColor": "black", "titlePadding": 25}}
   }},
  {"transform": [{"fold": ["Green"], "as": ["band", "value"]}],
   "mark": {"type": "point", "shape": "circle", "filled": true, "opacity": 1, "size": 169, "stroke": "black", "strokeWidth": 0.8}},
  {"transform": [{"fold": ["Red"], "as": ["band", "value"]}],
   "mark": {"type": "point", "shape": "square", "filled": true, "opacity": 1, "size": 169, "stroke": "black", "strokeWidth": 0.8}},
  {"transform": [{"fold": ["NIR"], "as": ["band", "value"]}],
   "mark": {"type": "point", "shape": "square", "filled": true, "opacity": 1, "size": 169, "stroke": "black", "strokeWidth": 0.8}},
  {"transform": [{"fold": ["SWIR1"], "as": ["band", "value"]}],
   "mark": {"type": "point", "shape": "square", "filled": true, "opacity": 1, "size": 169, "stroke": "black", "strokeWidth": 0.8}},
  {"transform": [{"fold": ["SWIR2"], "as": ["band", "value"]}],
   "mark": {"type": "point", "shape": "circle", "filled": true, "opacity": 1, "size": 169, "stroke": "black", "strokeWidth": 0.8}},
  {"transform": [{"fold": ["Pan"], "as": ["band", "value"]}],
   "mark": {"type": "point", "shape": "square", "filled": true, "opacity": 1, "size": 169, "stroke": "black", "strokeWidth": 0.8},
   "encoding": {
     "x": {"field": "day", "type": "quantitative", "scale": {"domain": [0, 8000], "nice": false},
       "axis": {"orient": "top", "values": [0,1000,2000,3000,4000,5000,6000,7000,8000], "grid": false, "labels": false, "domain": false, "ticks": true, "tickSize": -8, "tickColor": "black", "tickWidth": 1, "title": null}},
     "y": {"field": "value", "type": "quantitative", "scale": {"domain": [0.1, 0.8], "nice": false, "zero": false},
       "axis": {"orient": "right", "values": [0.1,0.2,0.3,0.4,0.5,0.6,0.7,0.8], "grid": false, "labels": false, "domain": false, "ticks": true, "tickSize": -8, "tickColor": "black", "tickWidth": 1, "title": null}}
   }}
],
"resolve": {"axis": {"x": "independent", "y": "independent"}}
}
